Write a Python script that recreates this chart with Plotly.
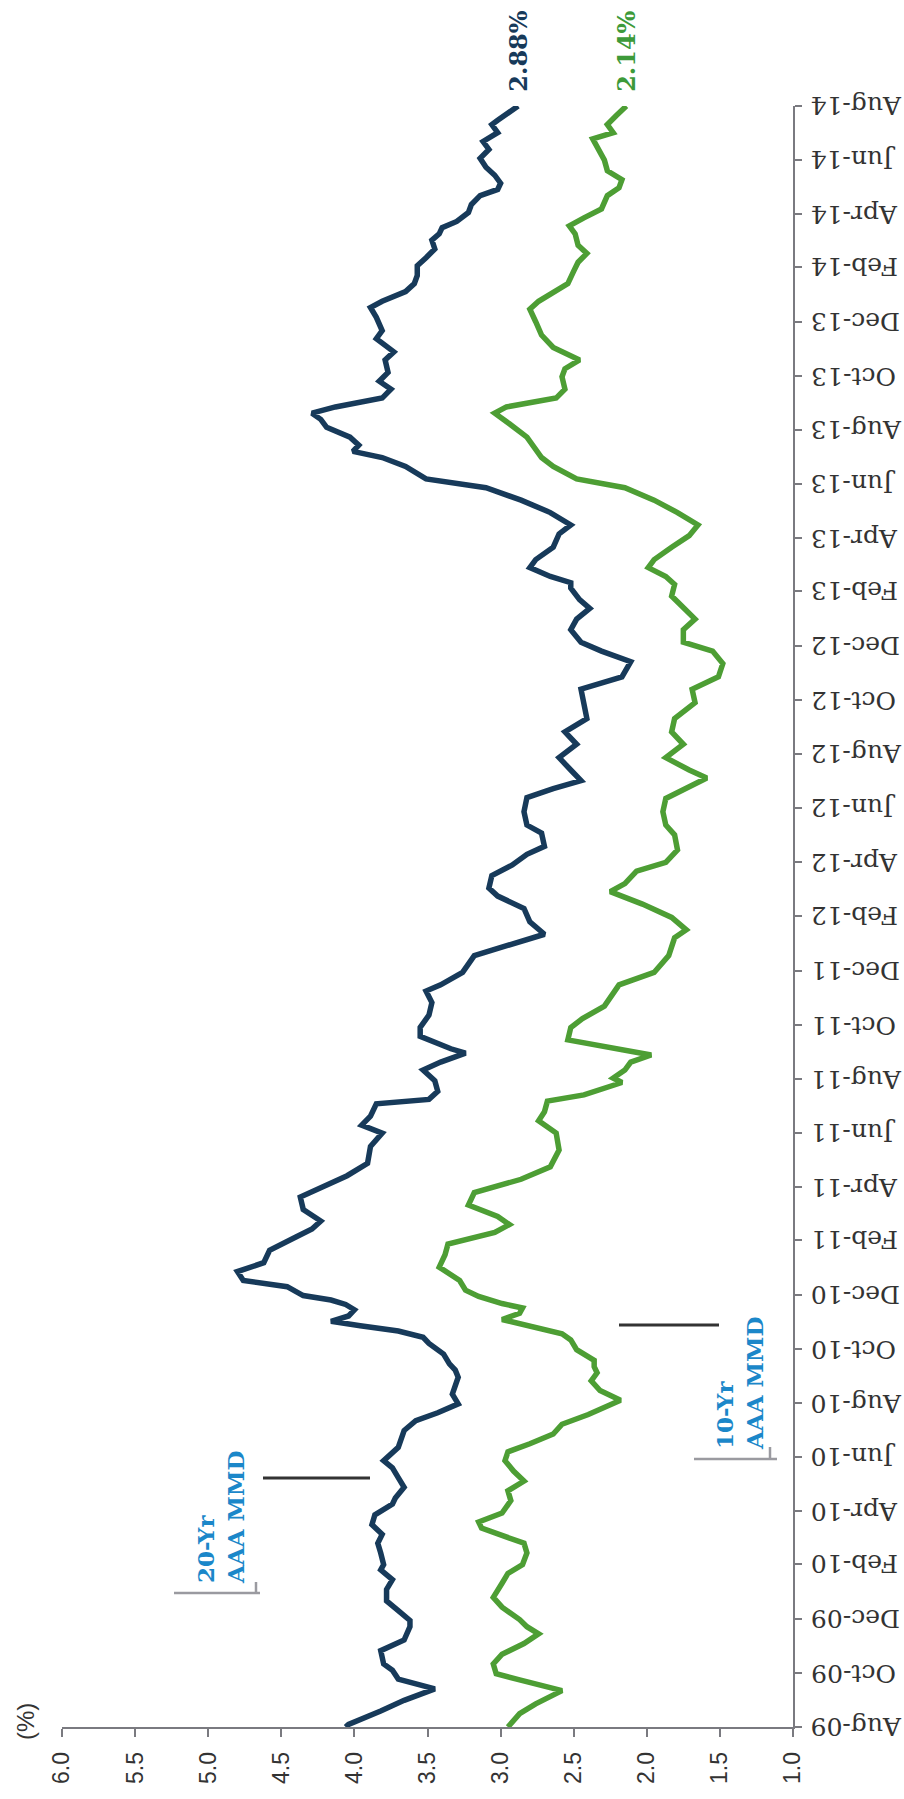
import plotly.graph_objects as go

# ---------------- data ----------------
dates_20yr = [
    "2009-08-01", "2009-08-04", "2009-08-19", "2009-08-31", "2009-09-13", "2009-09-24", "2009-10-04",
    "2009-10-11", "2009-10-26", "2009-11-07", "2009-11-22", "2009-11-29", "2009-12-10", "2009-12-21",
    "2010-01-03", "2010-01-14", "2010-01-25", "2010-01-31", "2010-02-13", "2010-02-24", "2010-03-06",
    "2010-03-17", "2010-03-28", "2010-04-09", "2010-04-16", "2010-04-28", "2010-05-09", "2010-05-20",
    "2010-05-28", "2010-06-12", "2010-07-01", "2010-07-12", "2010-07-21", "2010-07-31", "2010-08-11",
    "2010-08-22", "2010-08-30", "2010-09-07", "2010-09-14", "2010-09-25", "2010-10-07", "2010-10-14",
    "2010-10-21", "2010-10-27", "2010-11-01", "2010-11-07", "2010-11-14", "2010-11-20", "2010-11-25",
    "2010-11-30", "2010-12-10", "2010-12-17", "2010-12-27", "2011-01-06", "2011-01-20", "2011-02-04",
    "2011-02-13", "2011-02-22", "2011-03-07", "2011-03-21", "2011-04-05", "2011-04-14", "2011-04-28",
    "2011-05-17", "2011-06-01", "2011-06-10", "2011-06-20", "2011-07-04", "2011-07-09", "2011-07-18",
    "2011-07-30", "2011-08-11", "2011-08-20", "2011-08-30", "2011-09-04", "2011-09-18", "2011-09-28",
    "2011-10-12", "2011-10-26", "2011-11-08", "2011-11-15", "2011-11-29", "2011-12-18", "2012-01-04",
    "2012-01-11", "2012-01-25", "2012-02-09", "2012-02-23", "2012-03-03", "2012-03-17", "2012-03-29",
    "2012-04-10", "2012-04-19", "2012-05-04", "2012-05-13", "2012-05-28", "2012-06-13", "2012-06-23",
    "2012-07-02", "2012-07-14", "2012-07-28", "2012-08-12", "2012-08-26", "2012-09-10", "2012-09-28",
    "2012-10-13", "2012-10-27", "2012-11-13", "2012-11-25", "2012-12-05", "2012-12-19", "2012-12-31",
    "2013-01-12", "2013-01-22", "2013-02-04", "2013-02-10", "2013-02-17", "2013-02-27", "2013-03-08",
    "2013-03-22", "2013-04-06", "2013-04-16", "2013-04-30", "2013-05-14", "2013-05-28", "2013-06-07",
    "2013-06-21", "2013-07-01", "2013-07-08", "2013-07-15", "2013-07-24", "2013-08-04", "2013-08-13",
    "2013-08-20", "2013-08-27", "2013-09-06", "2013-09-16", "2013-09-25", "2013-10-05", "2013-10-19",
    "2013-10-28", "2013-11-12", "2013-11-21", "2013-12-06", "2013-12-17", "2013-12-24", "2014-01-04",
    "2014-01-13", "2014-01-22", "2014-02-02", "2014-02-11", "2014-02-21", "2014-03-03", "2014-03-10",
    "2014-03-17", "2014-03-24", "2014-04-03", "2014-04-12", "2014-04-22", "2014-04-29", "2014-05-06",
    "2014-05-15", "2014-05-24", "2014-06-03", "2014-06-13", "2014-06-22", "2014-07-02", "2014-07-11",
    "2014-07-16", "2014-07-25", "2014-08-01",
]
yield_20yr = [
    4.06, 4.04, 3.82, 3.66, 3.45, 3.70, 3.74,
    3.80, 3.82, 3.66, 3.62, 3.62, 3.70, 3.78,
    3.78, 3.74, 3.82, 3.80, 3.82, 3.84, 3.81,
    3.88, 3.86, 3.74, 3.72, 3.66, 3.70, 3.74,
    3.80, 3.70, 3.66, 3.58, 3.43, 3.29, 3.33,
    3.31, 3.29, 3.31, 3.35, 3.39, 3.49, 3.53,
    3.70, 3.96, 4.16, 4.04, 4.00, 4.06, 4.16,
    4.35, 4.46, 4.76, 4.80, 4.62, 4.58, 4.40,
    4.29, 4.23, 4.35, 4.37, 4.17, 4.05, 3.91,
    3.89, 3.81, 3.95, 3.89, 3.85, 3.49, 3.43,
    3.45, 3.53, 3.41, 3.24, 3.34, 3.55, 3.55,
    3.49, 3.47, 3.51, 3.41, 3.26, 3.18, 2.84,
    2.70, 2.80, 2.84, 3.02, 3.08, 3.06, 2.92,
    2.82, 2.70, 2.72, 2.82, 2.84, 2.82, 2.64,
    2.45, 2.52, 2.60, 2.48, 2.56, 2.41, 2.43,
    2.45, 2.17, 2.11, 2.31, 2.45, 2.52, 2.48,
    2.39, 2.46, 2.52, 2.52, 2.66, 2.80, 2.76,
    2.64, 2.60, 2.52, 2.66, 2.86, 3.10, 3.51,
    3.65, 3.81, 4.01, 3.97, 4.03, 4.19, 4.23,
    4.29, 4.13, 3.81, 3.75, 3.83, 3.77, 3.79,
    3.73, 3.85, 3.81, 3.85, 3.89, 3.81, 3.65,
    3.59, 3.57, 3.57, 3.51, 3.45, 3.47, 3.42,
    3.40, 3.30, 3.22, 3.20, 3.14, 3.02, 3.00,
    3.04, 3.10, 3.14, 3.08, 3.12, 3.02, 3.06,
    3.02, 2.94, 2.88,
]

dates_10yr = [
    "2009-08-01", "2009-08-16", "2009-08-27", "2009-09-11", "2009-09-23", "2009-09-30", "2009-10-11",
    "2009-10-22", "2009-11-03", "2009-11-14", "2009-11-22", "2009-11-30", "2009-12-14", "2009-12-25",
    "2010-01-10", "2010-01-21", "2010-01-31", "2010-02-13", "2010-02-24", "2010-03-02", "2010-03-13",
    "2010-03-20", "2010-03-30", "2010-04-13", "2010-04-24", "2010-05-05", "2010-05-16", "2010-05-28",
    "2010-06-07", "2010-06-16", "2010-06-27", "2010-07-08", "2010-07-19", "2010-08-04", "2010-08-15",
    "2010-08-26", "2010-09-04", "2010-09-11", "2010-09-18", "2010-09-30", "2010-10-11", "2010-10-18",
    "2010-10-29", "2010-11-03", "2010-11-10", "2010-11-16", "2010-11-21", "2010-11-29", "2010-12-06",
    "2010-12-17", "2011-01-01", "2011-01-15", "2011-01-27", "2011-02-09", "2011-02-18", "2011-02-27",
    "2011-03-12", "2011-03-26", "2011-04-10", "2011-04-24", "2011-05-13", "2011-06-01", "2011-06-15",
    "2011-06-25", "2011-07-07", "2011-07-14", "2011-07-28", "2011-08-02", "2011-08-11", "2011-08-20",
    "2011-08-28", "2011-09-04", "2011-09-14", "2011-09-28", "2011-10-08", "2011-10-22", "2011-11-06",
    "2011-11-15", "2011-11-29", "2011-12-18", "2012-01-07", "2012-01-16", "2012-01-30", "2012-02-14",
    "2012-02-28", "2012-03-08", "2012-03-22", "2012-04-01", "2012-04-15", "2012-05-02", "2012-05-13",
    "2012-05-28", "2012-06-12", "2012-06-26", "2012-07-05", "2012-07-14", "2012-07-28", "2012-08-12",
    "2012-08-26", "2012-09-10", "2012-09-28", "2012-10-13", "2012-10-27", "2012-11-11", "2012-11-25",
    "2012-12-05", "2012-12-19", "2012-12-31", "2013-01-12", "2013-01-26", "2013-02-08", "2013-02-17",
    "2013-02-27", "2013-03-08", "2013-03-22", "2013-04-04", "2013-04-16", "2013-04-30", "2013-05-14",
    "2013-05-28", "2013-06-07", "2013-06-21", "2013-07-01", "2013-07-10", "2013-07-24", "2013-08-08",
    "2013-08-20", "2013-08-27", "2013-09-06", "2013-09-16", "2013-09-30", "2013-10-09", "2013-10-19",
    "2013-11-02", "2013-11-16", "2013-12-01", "2013-12-15", "2013-12-24", "2014-01-04", "2014-01-13",
    "2014-01-27", "2014-02-06", "2014-02-16", "2014-02-25", "2014-03-10", "2014-03-19", "2014-03-28",
    "2014-04-07", "2014-04-22", "2014-05-01", "2014-05-10", "2014-05-20", "2014-06-01", "2014-06-13",
    "2014-06-25", "2014-07-02", "2014-07-11", "2014-07-21", "2014-08-01",
]
yield_10yr = [
    2.95, 2.87, 2.76, 2.58, 2.87, 3.03, 3.05,
    2.99, 2.84, 2.74, 2.82, 2.87, 2.99, 3.05,
    2.99, 2.95, 2.85, 2.82, 2.84, 2.95, 3.13,
    3.15, 2.99, 2.93, 2.95, 2.84, 2.91, 2.97,
    2.95, 2.80, 2.64, 2.58, 2.40, 2.18, 2.32,
    2.38, 2.34, 2.36, 2.36, 2.48, 2.52, 2.58,
    2.84, 2.99, 2.87, 2.85, 2.99, 3.15, 3.24,
    3.28, 3.42, 3.38, 3.36, 3.04, 2.94, 3.02,
    3.22, 3.18, 2.86, 2.66, 2.60, 2.62, 2.74,
    2.70, 2.68, 2.43, 2.17, 2.23, 2.15, 2.11,
    1.97, 2.19, 2.54, 2.52, 2.44, 2.29, 2.23,
    2.19, 1.95, 1.85, 1.81, 1.73, 1.83, 2.03,
    2.25, 2.15, 2.07, 1.87, 1.79, 1.81, 1.87,
    1.89, 1.87, 1.71, 1.59, 1.71, 1.87, 1.75,
    1.83, 1.81, 1.67, 1.69, 1.51, 1.48, 1.55,
    1.75, 1.75, 1.67, 1.75, 1.83, 1.81, 1.87,
    1.99, 1.95, 1.83, 1.71, 1.65, 1.79, 1.95,
    2.15, 2.48, 2.64, 2.72, 2.76, 2.82, 2.94,
    3.04, 2.96, 2.62, 2.56, 2.58, 2.56, 2.46,
    2.64, 2.72, 2.76, 2.80, 2.74, 2.62, 2.54,
    2.50, 2.47, 2.41, 2.47, 2.49, 2.53, 2.43,
    2.31, 2.27, 2.19, 2.17, 2.27, 2.29, 2.33,
    2.37, 2.23, 2.27, 2.21, 2.14,
]

value_ticks = [6.0, 5.5, 5.0, 4.5, 4.0, 3.5, 3.0, 2.5, 2.0, 1.5, 1.0]
date_tickvals = [
    "2009-08-01", "2009-10-01", "2009-12-01", "2010-02-01", "2010-04-01", "2010-06-01",
    "2010-08-01", "2010-10-01", "2010-12-01", "2011-02-01", "2011-04-01", "2011-06-01",
    "2011-08-01", "2011-10-01", "2011-12-01", "2012-02-01", "2012-04-01", "2012-06-01",
    "2012-08-01", "2012-10-01", "2012-12-01", "2013-02-01", "2013-04-01", "2013-06-01",
    "2013-08-01", "2013-10-01", "2013-12-01", "2014-02-01", "2014-04-01", "2014-06-01",
    "2014-08-01",
]
date_ticktext = [
    "Aug-09", "Oct-09", "Dec-09", "Feb-10", "Apr-10", "Jun-10",
    "Aug-10", "Oct-10", "Dec-10", "Feb-11", "Apr-11", "Jun-11",
    "Aug-11", "Oct-11", "Dec-11", "Feb-12", "Apr-12", "Jun-12",
    "Aug-12", "Oct-12", "Dec-12", "Feb-13", "Apr-13", "Jun-13",
    "Aug-13", "Oct-13", "Dec-13", "Feb-14", "Apr-14", "Jun-14",
    "Aug-14",
]

series_names = ["20-Yr AAA MMD", "10-Yr AAA MMD"]
end_labels = ["2.88%", "2.14%"]

# ---------------- styles ----------------
DARK = "#173a5a"
GREEN = "#4d9e34"
GREEN_TXT = "#3d9a3a"
BLUE = "#1b87c9"
AXIS = "#7a7a80"

W, H = 904, 1799
ML, MR, MT, MB = 62, 111, 106, 72
PW, PH = W - ML - MR, H - MT - MB


def px(xp):
    return (xp - ML) / PW


def py(yp):
    return (H - MB - yp) / PH


fig = go.Figure()
fig.add_trace(go.Scatter(x=yield_20yr, y=dates_20yr, mode="lines", name=series_names[0],
                         line=dict(color=DARK, width=5.5)))
fig.add_trace(go.Scatter(x=yield_10yr, y=dates_10yr, mode="lines", name=series_names[1],
                         line=dict(color=GREEN, width=5.5)))

fig.update_layout(
    width=W, height=H,
    margin=dict(l=ML, r=MR, t=MT, b=MB, pad=0, autoexpand=False),
    paper_bgcolor="white", plot_bgcolor="white",
    showlegend=False,
)
fig.update_xaxes(
    range=[6.0, 1.0], tickvals=value_ticks, ticktext=[f"{v:.1f}" for v in value_ticks],
    tickangle=-90, showgrid=False, zeroline=False, automargin=False,
    showline=True, linecolor=AXIS, linewidth=1.5,
    ticks="outside", ticklen=8, tickcolor=AXIS, tickwidth=1.5,
    tickfont=dict(family="Liberation Sans", size=23, color="#333333"),
    ticklabelstandoff=6,
)
fig.update_yaxes(
    type="date", range=["2009-08-01", "2014-08-01"], side="right",
    tickvals=date_tickvals, showticklabels=False,
    showgrid=False, zeroline=False, automargin=False,
    showline=True, linecolor=AXIS, linewidth=1.5,
    ticks="outside", ticklen=7, tickcolor=AXIS, tickwidth=1.5,
)

# date tick labels (upside down, as in the rotated original)
for dv, dt in zip(date_tickvals, date_ticktext):
    fig.add_annotation(x=px(809), y=dv, xref="paper", yref="y", text=dt,
                       textangle=180, showarrow=False, xanchor="left", yanchor="middle",
                       font=dict(family="DejaVu Serif", size=25, color="#333333"))

# end labels
for lab, col, xv, yv in [
    (end_labels[0], DARK, yield_20yr[-1], dates_20yr[-1]),
    (end_labels[1], GREEN_TXT, yield_10yr[-1], dates_10yr[-1]),
]:
    fig.add_annotation(x=xv, y=yv, xref="x", yref="y", text=f"<b>{lab}</b>",
                       textangle=-90, showarrow=False, xanchor="center", yanchor="bottom",
                       yshift=12, font=dict(family="DejaVu Serif", size=24, color=col))

# "(%)"
fig.add_annotation(x=px(25), y=py(1722), xref="paper", yref="paper", text="(%)",
                   textangle=-90, showarrow=False, xanchor="center", yanchor="middle",
                   font=dict(family="Liberation Sans", size=24, color="#333333"))

# series labels
fig.add_annotation(x=px(220), y=py(1518), xref="paper", yref="paper",
                   text="<b>20-Yr<br>AAA MMD</b>", align="left",
                   textangle=-90, showarrow=False, xanchor="center", yanchor="middle",
                   font=dict(family="DejaVu Serif", size=23, color=BLUE))
fig.add_annotation(x=px(739), y=py(1384), xref="paper", yref="paper",
                   text="<b>10-Yr<br>AAA MMD</b>", align="left",
                   textangle=-90, showarrow=False, xanchor="center", yanchor="middle",
                   font=dict(family="DejaVu Serif", size=23, color=BLUE))

# leader / bracket lines
shapes = [
    dict(x0=px(263), x1=px(370), y0=py(1478), y1=py(1478), color="#333333", w=3),
    dict(x0=px(174), x1=px(260), y0=py(1593), y1=py(1593), color="#9a9aa0", w=2.5),
    dict(x0=px(256), x1=px(256), y0=py(1582), y1=py(1593), color="#9a9aa0", w=2.5),
    dict(x0=px(619), x1=px(719), y0=py(1325), y1=py(1325), color="#333333", w=3),
    dict(x0=px(694), x1=px(777), y0=py(1459), y1=py(1459), color="#9a9aa0", w=2.5),
    dict(x0=px(770), x1=px(770), y0=py(1447), y1=py(1459), color="#9a9aa0", w=2.5),
]
for s in shapes:
    fig.add_shape(type="line", xref="paper", yref="paper", x0=s["x0"], x1=s["x1"],
                  y0=s["y0"], y1=s["y1"], line=dict(color=s["color"], width=s["w"]))

fig.write_html("out.html")
